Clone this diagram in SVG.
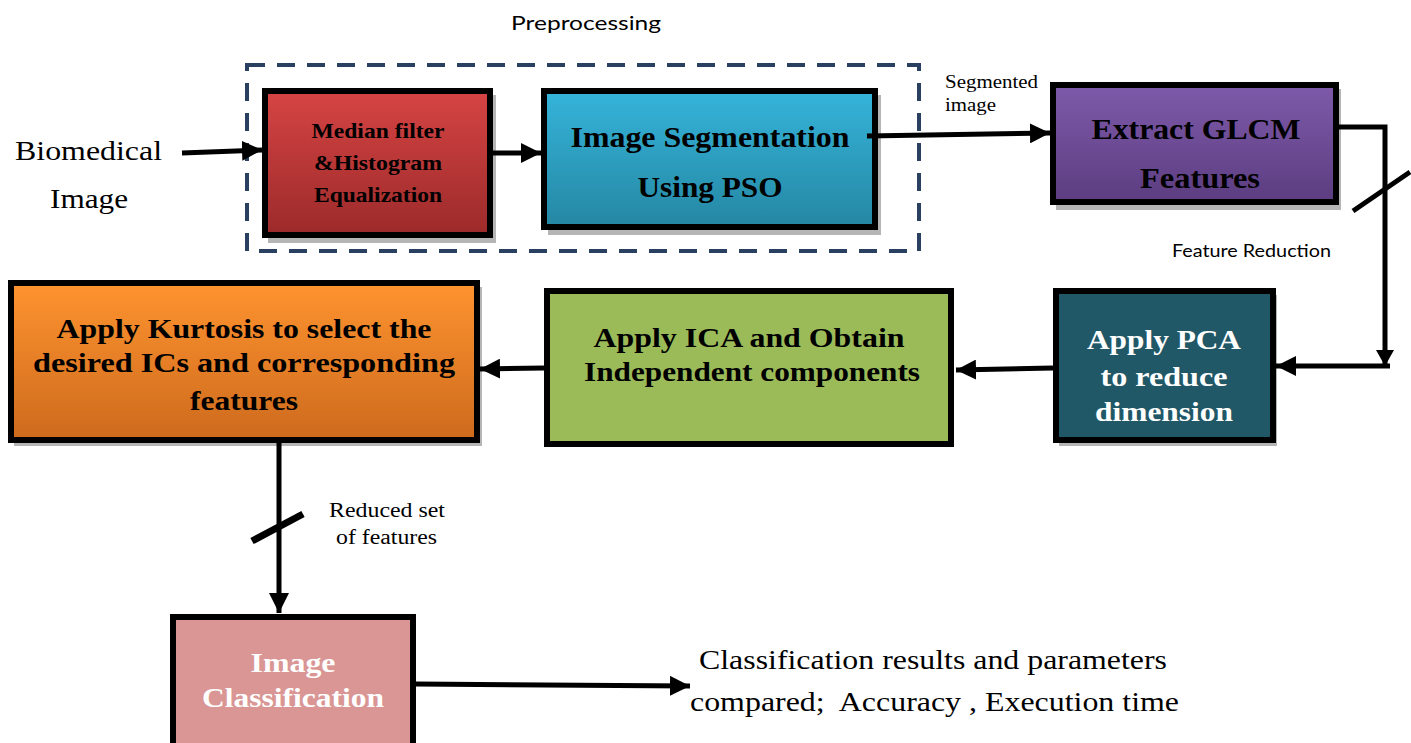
<svg xmlns="http://www.w3.org/2000/svg" width="1411" height="743" viewBox="0 0 1411 743">
<style>
.box{stroke:#000;stroke-width:6}
.sh{fill:#b5b5b5}
.t{font-family:"Liberation Serif","Times New Roman",serif;font-weight:bold;text-anchor:middle;fill:#000}
.w{fill:#fff}
.r{font-family:"Liberation Serif","Times New Roman",serif;fill:#000}
.s{font-family:Lato,"Open Sans","Liberation Sans",sans-serif;fill:#000}
.c{fill:none;stroke:#000;stroke-width:5}
</style>
<defs>
<linearGradient id="gRed" x1="0" y1="0" x2="0" y2="1"><stop offset="0" stop-color="#d64444"/><stop offset="1" stop-color="#9c2a2a"/></linearGradient>
<linearGradient id="gCyan" x1="0" y1="0" x2="0" y2="1"><stop offset="0" stop-color="#35b4da"/><stop offset="1" stop-color="#2587a3"/></linearGradient>
<linearGradient id="gPur" x1="0" y1="0" x2="0" y2="1"><stop offset="0" stop-color="#7e5aaa"/><stop offset="1" stop-color="#5c3d80"/></linearGradient>
<linearGradient id="gOr" x1="0" y1="0" x2="0" y2="1"><stop offset="0" stop-color="#fe932f"/><stop offset="1" stop-color="#cd6a1d"/></linearGradient>
<marker id="ah" markerUnits="userSpaceOnUse" markerWidth="22" markerHeight="20" refX="20" refY="10" orient="auto"><path d="M0,0 L20,10 L0,20 Z" fill="#000"/></marker>
<marker id="ahs" markerUnits="userSpaceOnUse" markerWidth="18" markerHeight="18" refX="16" refY="9" orient="auto"><path d="M0,0 L16,9 L0,18 Z" fill="#000"/></marker>
</defs>

<text class="s" x="511" y="30" font-size="20" textLength="150" lengthAdjust="spacingAndGlyphs">Preprocessing</text>
<rect x="247" y="65" width="672" height="186" fill="none" stroke="#2a4060" stroke-width="4" stroke-dasharray="18 12"/>

<text class="r" x="15" y="160" font-size="28" textLength="147" lengthAdjust="spacingAndGlyphs">Biomedical</text>
<text class="r" x="50" y="208" font-size="28" textLength="78" lengthAdjust="spacingAndGlyphs">Image</text>

<g id="n-median">
<rect class="sh" x="268" y="95" width="228" height="148"/>
<rect class="box" x="265" y="91" width="225" height="144" fill="url(#gRed)"/>
<text class="t" x="378" y="138" font-size="21" textLength="133" lengthAdjust="spacingAndGlyphs">Median filter</text>
<text class="t" x="378" y="170" font-size="21" textLength="128" lengthAdjust="spacingAndGlyphs">&amp;Histogram</text>
<text class="t" x="378" y="202" font-size="21" textLength="128" lengthAdjust="spacingAndGlyphs">Equalization</text>
</g>

<g id="n-seg">
<rect class="sh" x="548" y="95" width="333" height="140"/>
<rect class="box" x="544" y="91" width="331" height="136" fill="url(#gCyan)"/>
<text class="t" x="710" y="147" font-size="30" textLength="279" lengthAdjust="spacingAndGlyphs">Image Segmentation</text>
<text class="t" x="710" y="197" font-size="30" textLength="145" lengthAdjust="spacingAndGlyphs">Using PSO</text>
</g>

<g id="n-glcm">
<rect class="sh" x="1056" y="89" width="285" height="121"/>
<rect class="box" x="1053" y="85" width="283" height="117" fill="url(#gPur)"/>
<text class="t" x="1196" y="139" font-size="30" textLength="209" lengthAdjust="spacingAndGlyphs">Extract GLCM</text>
<text class="t" x="1200" y="188" font-size="30" textLength="120" lengthAdjust="spacingAndGlyphs">Features</text>
</g>

<g id="n-kurt">
<rect class="sh" x="14" y="287" width="468" height="159"/>
<rect class="box" x="11" y="283" width="466" height="157" fill="url(#gOr)"/>
<text class="t" x="244" y="338" font-size="28" textLength="375" lengthAdjust="spacingAndGlyphs">Apply Kurtosis to select the</text>
<text class="t" x="244" y="372" font-size="28" textLength="422" lengthAdjust="spacingAndGlyphs">desired ICs and corresponding</text>
<text class="t" x="244" y="410" font-size="28" textLength="108" lengthAdjust="spacingAndGlyphs">features</text>
</g>

<g id="n-ica">
<rect class="box" x="547" y="291" width="404" height="153" fill="#9bbb59"/>
<text class="t" x="749" y="347" font-size="28" textLength="311" lengthAdjust="spacingAndGlyphs">Apply ICA and Obtain</text>
<text class="t" x="752" y="381" font-size="28" textLength="336" lengthAdjust="spacingAndGlyphs">Independent components</text>
</g>

<g id="n-pca">
<rect class="sh" x="1059" y="295" width="218" height="151"/>
<rect class="box" x="1056" y="291" width="217" height="149" fill="#215867"/>
<text class="t w" x="1164" y="349" font-size="28" textLength="154" lengthAdjust="spacingAndGlyphs">Apply PCA</text>
<text class="t w" x="1164" y="386" font-size="28" textLength="127" lengthAdjust="spacingAndGlyphs">to reduce</text>
<text class="t w" x="1164" y="421" font-size="28" textLength="138" lengthAdjust="spacingAndGlyphs">dimension</text>
</g>

<g id="n-class">
<rect class="box" x="173" y="617" width="240" height="132" fill="#d99694"/>
<text class="t w" x="293" y="672" font-size="28" textLength="85" lengthAdjust="spacingAndGlyphs">Image</text>
<text class="t w" x="293" y="707" font-size="28" textLength="182" lengthAdjust="spacingAndGlyphs">Classification</text>
</g>

<text class="r" x="945" y="88" font-size="18" textLength="93" lengthAdjust="spacingAndGlyphs">Segmented</text>
<text class="r" x="945" y="111" font-size="18" textLength="51" lengthAdjust="spacingAndGlyphs">image</text>
<text class="s" x="1172" y="257" font-size="17" textLength="159" lengthAdjust="spacingAndGlyphs">Feature Reduction</text>
<text class="r" x="329" y="517" font-size="20" textLength="116" lengthAdjust="spacingAndGlyphs">Reduced set</text>
<text class="r" x="336" y="544" font-size="20" textLength="101" lengthAdjust="spacingAndGlyphs">of features</text>
<text class="r" x="699" y="669" font-size="27" textLength="468" lengthAdjust="spacingAndGlyphs">Classification results and parameters</text>
<text class="r" x="690" y="711" font-size="27" textLength="489" lengthAdjust="spacingAndGlyphs" xml:space="preserve">compared;  Accuracy , Execution time</text>

<g id="connectors">
<line class="c" x1="182" y1="153" x2="262" y2="150" marker-end="url(#ah)"/>
<line class="c" x1="493" y1="153" x2="541" y2="153" stroke-width="8" marker-end="url(#ah)"/>
<line class="c" x1="867" y1="136" x2="1050" y2="133" marker-end="url(#ah)"/>
<polyline class="c" points="1339,127 1385,127 1385,366" marker-end="url(#ahs)"/>
<line class="c" x1="1353" y1="211" x2="1410" y2="172"/>
<line class="c" x1="1390" y1="366" x2="1276" y2="366" marker-end="url(#ah)"/>
<line class="c" x1="1053" y1="368" x2="956" y2="370" marker-end="url(#ah)"/>
<line class="c" x1="544" y1="368" x2="480" y2="369" marker-end="url(#ah)"/>
<line class="c" x1="279" y1="443" x2="279" y2="613" marker-end="url(#ah)"/>
<line x1="252" y1="541" x2="303" y2="514" stroke="#000" stroke-width="7"/>
<line class="c" x1="416" y1="684" x2="690" y2="686" marker-end="url(#ah)"/>
</g>
</svg>
